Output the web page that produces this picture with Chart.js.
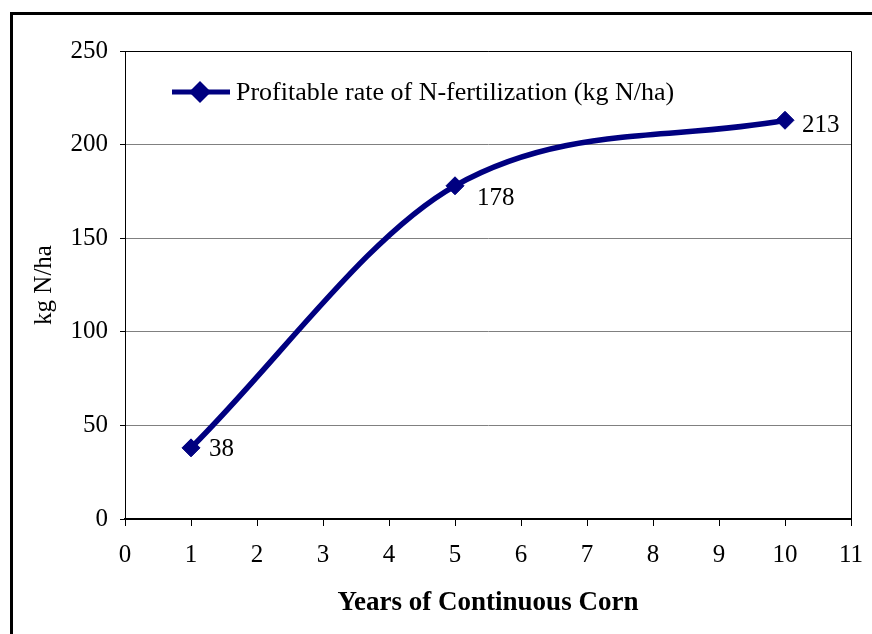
<!DOCTYPE html>
<html>
<head>
<meta charset="utf-8">
<script src="https://cdn.jsdelivr.net/npm/chart.js@4.4.0/dist/chart.umd.min.js"></script>
<style>
  html, body { margin: 0; padding: 0; background: #fff; }
  canvas { display: block; }
</style>
</head>
<body>
<canvas id="myChart" width="872" height="634"></canvas>
<script>
// chart data
var years = [1, 5, 10];
var rates = [38, 178, 213];
var seriesName = 'Profitable rate of N-fertilization (kg N/ha)';
var xTitle = 'Years of Continuous Corn';
var yTitle = 'kg N/ha';

var navy = '#000080';
var serif = '"Liberation Serif", "Times New Roman", serif';

// outer frame round the whole picture
var framePlugin = {
	id: 'frame',
	beforeDraw: function(chart) {
		var ctx = chart.ctx;
		ctx.save();
		ctx.fillStyle = '#fff';
		ctx.fillRect(0, 0, chart.width, chart.height);
		ctx.strokeStyle = '#000';
		ctx.lineWidth = 3;
		ctx.strokeRect(11.5, 13.5, 900, 700);
		ctx.restore();
	},
	afterDraw: function(chart) {
		// plot area box (top and right edge)
		var a = chart.chartArea, ctx = chart.ctx;
		ctx.save();
		ctx.strokeStyle = '#000';
		ctx.lineWidth = 1;
		ctx.beginPath();
		ctx.moveTo(a.left, a.top + 0.5);
		ctx.lineTo(a.right + 0.5, a.top + 0.5);
		ctx.lineTo(a.right + 0.5, a.bottom);
		ctx.stroke();
		ctx.restore();
	}
};

// legend sits inside the plot area, top left
var innerLegend = {
	id: 'innerLegend',
	afterDatasetsDraw: function(chart) {
		var ctx = chart.ctx, ds = chart.data.datasets[0];
		var y = 92;
		ctx.save();
		ctx.strokeStyle = ds.borderColor;
		ctx.lineWidth = 5;
		ctx.beginPath();
		ctx.moveTo(172, y);
		ctx.lineTo(230, y);
		ctx.stroke();
		ctx.fillStyle = ds.backgroundColor;
		ctx.beginPath();
		ctx.moveTo(200, y - 11);
		ctx.lineTo(211, y);
		ctx.lineTo(200, y + 11);
		ctx.lineTo(189, y);
		ctx.closePath();
		ctx.fill();
		ctx.fillStyle = '#000';
		ctx.font = '26px ' + serif;
		ctx.textBaseline = 'middle';
		ctx.textAlign = 'left';
		ctx.fillText(ds.label, 236, y + 1);
		ctx.restore();
	}
};

// value labels beside each marker
var valueLabels = {
	id: 'valueLabels',
	afterDatasetsDraw: function(chart) {
		var ctx = chart.ctx;
		var meta = chart.getDatasetMeta(0);
		var offsets = [[18, 2], [22, 13], [17, 5]];
		ctx.save();
		ctx.fillStyle = '#000';
		ctx.font = '25px ' + serif;
		ctx.textBaseline = 'middle';
		ctx.textAlign = 'left';
		meta.data.forEach(function(pt, i) {
			var o = offsets[i] || [18, 0];
			ctx.fillText(String(rates[i]), pt.x + o[0], pt.y + o[1]);
		});
		ctx.restore();
	}
};

var points = years.map(function(x, i) { return {x: x, y: rates[i]}; });

var data = {
	datasets: [{
		label: seriesName,
		data: points,
		borderColor: navy,
		backgroundColor: navy,
		borderWidth: 5.5,
		cubicInterpolationMode: 'monotone',
		pointStyle: 'rectRot',
		pointRadius: 9,
		pointHoverRadius: 9,
		pointBackgroundColor: navy,
		pointBorderColor: navy,
		pointBorderWidth: 1
	}]
};

var options = {
	responsive: false,
	maintainAspectRatio: false,
	animation: false,
	layout: { padding: { top: 51, right: 21, left: 0, bottom: 0 } },
	plugins: {
		legend: { display: false },
		tooltip: { enabled: false }
	},
	scales: {
		x: {
			type: 'linear',
			min: 0,
			max: 11,
			ticks: {
				stepSize: 1,
				color: '#000',
				padding: 14,
				font: { family: serif, size: 25 }
			},
			grid: {
				drawOnChartArea: false,
				drawTicks: true,
				tickLength: 7,
				tickColor: '#000'
			},
			border: { color: '#000', width: 2 },
			title: {
				display: true,
				text: xTitle,
				color: '#000',
				font: { family: serif, size: 27, weight: 'bold' },
				padding: { top: 0, bottom: 15 }
			},
			afterFit: function(scale) {
				scale.height = 115;
				scale.paddingLeft = 0;
				scale.paddingRight = 0;
			}
		},
		y: {
			min: 0,
			max: 250,
			ticks: {
				stepSize: 50,
				color: '#000',
				padding: 12,
				font: { family: serif, size: 25 }
			},
			grid: {
				color: '#808080',
				lineWidth: 1,
				tickLength: 5,
				tickColor: '#000'
			},
			border: { color: '#000', width: 1 },
			title: {
				display: true,
				text: yTitle,
				color: '#000',
				font: { family: serif, size: 25 },
				padding: { top: 29, bottom: 0 }
			},
			afterFit: function(scale) { scale.width = 125; }
		}
	}
};

var myChart = new Chart(document.getElementById('myChart').getContext('2d'), {
	type: 'line',
	data: data,
	options: options,
	plugins: [framePlugin, innerLegend, valueLabels]
});
</script>
</body>
</html>
